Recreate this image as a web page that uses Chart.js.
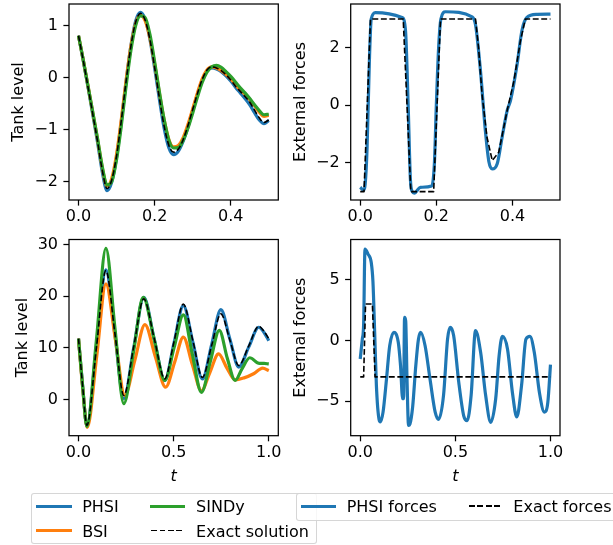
<!DOCTYPE html>
<html>
<head>
<meta charset="utf-8">
<script src="https://cdn.jsdelivr.net/npm/chart.js@4.4.0/dist/chart.umd.min.js"></script>
<style>
  html, body { margin: 0; padding: 0; background: #fff; }
  #fig { position: relative; width: 613px; height: 545px; overflow: hidden;
         font-family: 'DejaVu Sans', sans-serif; }
  #fig canvas { position: absolute; left: 0; top: 0; }
  .box { position: absolute; box-sizing: border-box; background: rgba(255,255,255,0.8);
         border: 1px solid rgba(204,204,204,0.8); border-radius: 3px; }
  .txt { position: absolute; font-size: 16px; line-height: 19px; color: #000; white-space: nowrap; }
  .hl  { position: absolute; height: 3px; }
  .hd  { position: absolute; height: 1.6px;
         background: repeating-linear-gradient(90deg, #000 0 5.9px, transparent 5.9px 8.5px); }
</style>
</head>
<body>
<div id="fig">
  <canvas id="cTL" width="613" height="545"></canvas>
  <canvas id="cTR" width="613" height="545"></canvas>
  <canvas id="cBL" width="613" height="545"></canvas>
  <canvas id="cBR" width="613" height="545"></canvas>

  <!-- legend of the tank level panels -->
  <div class="box" style="left:31px;top:493px;width:285.5px;height:51px;"></div>
  <div class="hl" style="left:36px;top:504.5px;width:35.6px;background:#1f77b4;"></div>
  <div class="txt" style="left:82.2px;top:496.8px;">PHSI</div>
  <div class="hl" style="left:36px;top:529.2px;width:35.6px;background:#ff7f0e;"></div>
  <div class="txt" style="left:82.2px;top:521.5px;">BSI</div>
  <div class="hl" style="left:149.9px;top:504.5px;width:35.6px;background:#2ca02c;"></div>
  <div class="txt" style="left:196.1px;top:496.8px;">SINDy</div>
  <div class="hd" style="left:151.3px;top:529.9px;width:32px;"></div>
  <div class="txt" style="left:196.1px;top:521.5px;">Exact solution</div>

  <!-- legend of the force panels -->
  <div class="box" style="left:295.5px;top:493px;width:330px;height:28px;"></div>
  <div class="hl" style="left:300.5px;top:504.5px;width:35.6px;background:#1f77b4;"></div>
  <div class="txt" style="left:346.7px;top:496.8px;">PHSI forces</div>
  <div class="hd" style="left:468.5px;top:505.2px;width:32px;"></div>
  <div class="txt" style="left:513.3px;top:496.8px;">Exact forces</div>
</div>

<script>
/* ── data ── */

// top left: tank level, t in [0, 0.5]
var tlT = [0, 0.0125, 0.025, 0.0375, 0.05, 0.0625, 0.075, 0.0875, 0.1, 0.1125,
           0.125, 0.1375, 0.15, 0.1625, 0.175, 0.1875, 0.2, 0.2125, 0.225, 0.2375,
           0.25, 0.2625, 0.275, 0.2875, 0.3, 0.3125, 0.325, 0.3375, 0.35, 0.3625,
           0.375, 0.3875, 0.4, 0.4125, 0.425, 0.4375, 0.45, 0.4625, 0.475, 0.4875, 0.5];
var tlExact = [0.81, 0.33, -0.18, -0.7, -1.22, -1.78, -2.13, -1.96, -1.5, -0.82,
               -0.07, 0.6, 1.07, 1.24, 1.11, 0.74, 0.2, -0.39, -0.93, -1.3,
               -1.43, -1.37, -1.19, -0.92, -0.61, -0.3, -0.03, 0.15, 0.21, 0.19,
               0.14, 0.06, -0.04, -0.16, -0.26, -0.36, -0.47, -0.62, -0.77, -0.86, -0.81];
var tlPhsi  = [0.81, 0.33, -0.18, -0.71, -1.24, -1.81, -2.17, -2.0, -1.53, -0.84,
               -0.08, 0.61, 1.09, 1.26, 1.13, 0.75, 0.19, -0.41, -0.97, -1.35,
               -1.48, -1.41, -1.22, -0.95, -0.63, -0.32, -0.05, 0.13, 0.19, 0.17,
               0.12, 0.04, -0.06, -0.18, -0.29, -0.4, -0.52, -0.67, -0.81, -0.88, -0.82];
var tlBsi   = [0.81, 0.34, -0.16, -0.67, -1.18, -1.73, -2.08, -1.93, -1.47, -0.8,
               -0.05, 0.6, 1.04, 1.2, 1.1, 0.77, 0.27, -0.29, -0.81, -1.19,
               -1.33, -1.3, -1.15, -0.9, -0.6, -0.29, -0.02, 0.15, 0.21, 0.19,
               0.14, 0.07, -0.02, -0.13, -0.23, -0.32, -0.42, -0.54, -0.66, -0.74, -0.72];
var tlSindy = [0.81, 0.34, -0.16, -0.66, -1.17, -1.71, -2.06, -1.99, -1.57, -0.92,
               -0.16, 0.52, 1.0, 1.19, 1.16, 0.84, 0.31, -0.27, -0.8, -1.2,
               -1.35, -1.34, -1.2, -0.97, -0.68, -0.37, -0.09, 0.11, 0.21, 0.24,
               0.2, 0.12, 0.03, -0.08, -0.19, -0.29, -0.4, -0.52, -0.63, -0.71, -0.7];

// top right: external forces
var trForceT = [0, 0.009, 0.013, 0.018, 0.024, 0.029, 0.04, 0.11, 0.119, 0.126,
                0.132, 0.137, 0.142, 0.158, 0.188, 0.195, 0.2, 0.206, 0.212, 0.224,
                0.294, 0.303, 0.316, 0.329, 0.338, 0.347, 0.36, 0.373, 0.386, 0.395,
                0.412, 0.425, 0.438, 0.465, 0.5];
var trForce  = [-2.85, -2.95, -2.75, -1.5, 1.5, 3.0, 3.22, 3.05, 2.6, 0.0,
                -2.6, -3.0, -3.05, -2.85, -2.8, -2.0, 0.0, 2.0, 3.0, 3.25,
                3.07, 2.8, 1.2, -0.9, -1.95, -2.21, -2.03, -1.1, -0.19, 0.17,
                1.4, 2.6, 3.05, 3.16, 3.17];
var trExactT = [0, 0.01, 0.027, 0.113, 0.133, 0.193, 0.211, 0.303, 0.311, 0.32,
                0.333, 0.347, 0.364, 0.386, 0.404, 0.421, 0.434, 0.5];
var trExact  = [-3, -3, 3, 3, -3, -3, 3, 3, 2.0, 0.4,
                -1.1, -1.92, -1.63, -0.19, 0.85, 2.24, 3, 3];

// bottom left: tank level, t in [0, 1]
var blT      = [0, 0.022, 0.044, 0.094, 0.144, 0.191, 0.238, 0.29, 0.343, 0.398,
                0.453, 0.502, 0.551, 0.601, 0.651, 0.70, 0.748, 0.795, 0.842, 0.895,
                0.947, 0.975, 1.0];
var blExact  = [11.8, 2.5, -5.0, 10.0, 25.0, 12.9, 0.8, 10.2, 19.5, 11.8,
                4.0, 11.2, 18.5, 11.4, 4.3, 10.5, 16.6, 11.6, 6.6, 10.4,
                14.2, 13.2, 11.8];
var blPhsi   = [11.8, 2.5, -5.1, 10.0, 25.1, 12.7, 0.2, 10.0, 19.8, 11.7,
                3.7, 11.0, 18.2, 11.1, 4.0, 10.7, 17.4, 11.8, 6.3, 10.2,
                14.0, 13.0, 11.4];
var blBsiT   = [0, 0.022, 0.046, 0.096, 0.144, 0.194, 0.243, 0.296, 0.349, 0.403,
                0.458, 0.505, 0.551, 0.598, 0.646, 0.69, 0.736, 0.78, 0.823, 0.87,
                0.92, 0.968, 1.0];
var blBsi    = [11.8, 2.2, -5.4, 8.5, 22.4, 11.6, 0.8, 7.6, 14.5, 8.4,
                2.4, 7.2, 12.1, 6.8, 1.7, 5.2, 8.85, 6.1, 3.8, 4.2,
                5.0, 6.1, 5.6];
var blSindyT = [0, 0.022, 0.044, 0.094, 0.144, 0.191, 0.238, 0.29, 0.34, 0.398,
                0.453, 0.502, 0.551, 0.598, 0.646, 0.693, 0.74, 0.782, 0.823, 0.86,
                0.9, 0.95, 0.975, 1.0];
var blSindy  = [11.8, 2.4, -5.2, 11.5, 29.3, 14.0, -0.8, 9.5, 19.8, 11.6,
                3.7, 10.0, 16.4, 8.8, 1.4, 7.4, 13.4, 8.0, 3.7, 6.0,
                8.1, 7.0, 7.0, 6.9];

// bottom right: external forces
var brForceT = [0, 0.011, 0.018, 0.025, 0.041, 0.058, 0.067, 0.076, 0.085, 0.099,
                0.106, 0.12, 0.138, 0.155, 0.177, 0.2, 0.212, 0.223, 0.228, 0.233,
                0.239, 0.246, 0.254, 0.261, 0.276, 0.292, 0.306, 0.318, 0.341, 0.367,
                0.394, 0.412, 0.438, 0.459, 0.473, 0.491, 0.518, 0.544, 0.562, 0.583,
                0.606, 0.633, 0.659, 0.686, 0.712, 0.73, 0.747, 0.774, 0.8, 0.823,
                0.848, 0.871, 0.892, 0.915, 0.942, 0.968, 0.986, 1.0];
var brForce  = [-1.53, 0.1, 1.35, 7.5, 7.1, 6.4, 4.8, 0.66, -3.7, -6.5,
                -6.7, -5.9, -3.2, -0.44, 0.66, -0.16, -2.1, -4.8, -4.8, 1.9,
                1.6, -3.2, -7.0, -6.9, -5.4, -2.1, 0.1, 0.66, -0.44, -3.2,
                -5.9, -6.5, -4.5, 0.1, 1.07, 0.4, -3.45, -6.2, -6.6, -4.5,
                0.8, -1.0, -4.5, -6.74, -4.8, -1.26, 0.33, -0.7, -4.3, -6.3,
                -3.7, 0.1, 0.33, -1.0, -4.3, -5.9, -5.1, -2.0];
var brExactT = [0, 0.018, 0.028, 0.064, 0.078, 1.0];
var brExact  = [-3, -3, 3, 3, -3, -3];

// tick labels
var topXTicks = [0.0, 0.2, 0.4];
var botXTicks = [0.0, 0.5, 1.0];
var tlYTicks  = [-2, -1, 0, 1];
var trYTicks  = [-2, 0, 2];
var blYTicks  = [0, 10, 20, 30];
var brYTicks  = [-5, 0, 5];

/* ── drawing ── */
var FONT = "'DejaVu Sans', sans-serif";
var BLUE = '#1f77b4', ORANGE = '#ff7f0e', GREEN = '#2ca02c';
Chart.defaults.font.family = FONT;

var framePlugin = {
  id: 'frame',
  afterDatasetsDraw: function(chart) {
    var a = chart.chartArea, ctx = chart.ctx;
    ctx.save();
    ctx.strokeStyle = '#000';
    ctx.lineWidth = 1.25;
    ctx.strokeRect(a.left, a.top, a.right - a.left, a.bottom - a.top);
    ctx.restore();
  }
};

function line(xs, ys, color, order, smooth) {
  return {
    data: xs.map(function(x, i) { return { x: x, y: ys[i] }; }),
    borderColor: color, borderWidth: 3.2, order: order,
    pointRadius: 0, fill: false, tension: 0,
    cubicInterpolationMode: smooth ? 'monotone' : 'default',
    borderJoinStyle: 'round', borderCapStyle: 'butt'
  };
}
function dashed(xs, ys, order, smooth) {
  var d = line(xs, ys, '#000', order, smooth);
  d.borderWidth = 1.6;
  d.borderDash = [5.9, 2.6];
  return d;
}

function minusFmt(v) { return v < 0 ? '\u2212' + Math.abs(v) : String(v); }

/* p: { box:[l,t,r,b], yw, xh, xr, yr, xt, yt, yTitle, yPad, xTitle } */
function panel(id, p, datasets) {
  var tickGrid = { display: true, drawOnChartArea: false, drawTicks: true,
                   tickLength: 5.6, tickWidth: 1.25, tickColor: '#000' };
  return new Chart(document.getElementById(id), {
    type: 'line',
    data: { datasets: datasets },
    plugins: [framePlugin],
    options: {
      responsive: false, animation: false, events: [],
      layout: { padding: { left: p.box[0] - p.yw, top: p.box[1],
                           right: 613 - p.box[2], bottom: 545 - p.box[3] - p.xh } },
      plugins: { legend: { display: false }, tooltip: { enabled: false } },
      scales: {
        x: {
          type: 'linear', min: p.xr[0], max: p.xr[1],
          afterBuildTicks: function(s) { s.ticks = p.xt.map(function(v) { return { value: v }; }); },
          afterFit: function(s) { s.height = p.xh; s.paddingLeft = 0; s.paddingRight = 0; },
          grid: tickGrid, border: { display: false },
          ticks: { color: '#000', font: { size: 16 }, padding: 2, maxRotation: 0, autoSkip: false,
                   callback: function(v) { return v.toFixed(1); } },
          title: { display: !!p.xTitle, text: p.xTitle || '', color: '#000',
                   font: { size: 16, style: 'italic' }, padding: 0 }
        },
        y: {
          type: 'linear', min: p.yr[0], max: p.yr[1],
          afterBuildTicks: function(s) { s.ticks = p.yt.map(function(v) { return { value: v }; }); },
          afterFit: function(s) { s.width = p.yw; s.paddingTop = 0; s.paddingBottom = 0; },
          grid: tickGrid, border: { display: false },
          ticks: { color: '#000', font: { size: 16 }, padding: 5.4, autoSkip: false,
                   callback: minusFmt },
          title: { display: true, text: p.yTitle, color: '#000', font: { size: 16 },
                   padding: { top: p.yPad, bottom: 0 } }
        }
      }
    }
  });
}

panel('cTL', { box: [69, 4, 278.3, 200], yw: 69, xh: 30, xr: [-0.025, 0.525], yr: [-2.35, 1.42],
               xt: topXTicks, yt: tlYTicks, yTitle: 'Tank level', yPad: 9.3 },
  [ dashed(tlT, tlExact, 0, true),
    line(tlT, tlSindy, GREEN, 1, true),
    line(tlT, tlBsi, ORANGE, 2, true),
    line(tlT, tlPhsi, BLUE, 3, true) ]);

panel('cTR', { box: [350.7, 4, 560, 200], yw: 60, xh: 30, xr: [-0.025, 0.525], yr: [-3.29, 3.52],
               xt: topXTicks, yt: trYTicks, yTitle: 'External forces', yPad: 0.6 },
  [ dashed(trExactT, trExact, 0, false),
    line(trForceT, trForce, BLUE, 1, true) ]);

panel('cBL', { box: [69, 239.5, 278.3, 435.7], yw: 69, xh: 51, xr: [-0.05, 1.05], yr: [-7.0, 31.0],
               xt: botXTicks, yt: blYTicks, yTitle: 'Tank level', yPad: 13.1, xTitle: 't' },
  [ dashed(blT, blExact, 0, true),
    line(blSindyT, blSindy, GREEN, 1, true),
    line(blBsiT, blBsi, ORANGE, 2, true),
    line(blT, blPhsi, BLUE, 3, true) ]);

panel('cBR', { box: [350.7, 239.5, 560, 435.7], yw: 60, xh: 51, xr: [-0.05, 1.05], yr: [-7.84, 8.3],
               xt: botXTicks, yt: brYTicks, yTitle: 'External forces', yPad: 0.6, xTitle: 't' },
  [ dashed(brExactT, brExact, 0, false),
    line(brForceT, brForce, BLUE, 1, true) ]);
</script>
</body>
</html>
